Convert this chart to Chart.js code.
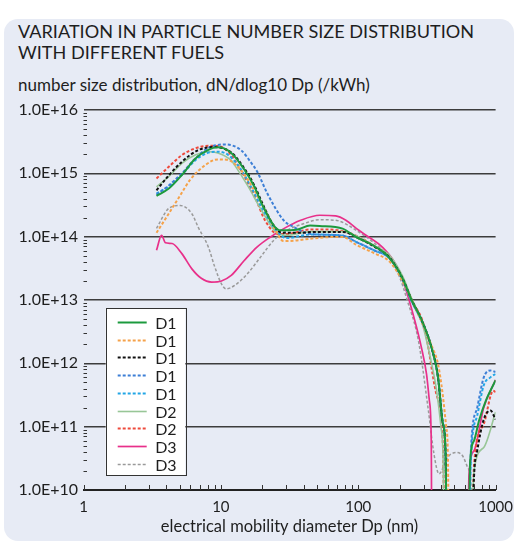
<!DOCTYPE html>
<html><head><meta charset="utf-8">
<script src="https://cdn.jsdelivr.net/npm/chart.js@4.4.1/dist/chart.umd.min.js"></script>
<style>
html,body{margin:0;padding:0;background:#fff;width:521px;height:549px;overflow:hidden;font-family:Lato,sans-serif;color:#1e1e1e}
#paper{position:absolute;left:4px;top:19px;width:510px;height:522px;background:#e7ebf5;border-radius:14px}
#title{position:absolute;left:18px;top:21px;font-size:18.1px;line-height:21.3px;white-space:nowrap}
#ytitle{position:absolute;left:18px;top:75px;font-size:17px;line-height:20px;white-space:nowrap}
canvas{position:absolute;left:0;top:0}
</style></head><body>
<div id="paper"></div>
<div id="title">VARIATION IN PARTICLE NUMBER SIZE DISTRIBUTION<br>WITH DIFFERENT FUELS</div>
<div id="ytitle">number size distribution, dN/dlog10 Dp (/kWh)</div>
<canvas id="c" width="521" height="549"></canvas>
<script>
// ---- data (Dp in nm, N in dN/dlog10Dp per kWh; 1e8 = below axis / zero) ----
const seriesLabels = ['D1','D1','D1','D1','D1','D2','D2','D3','D3'];
const xTickLabels = ['1','10','100','1000'];
const yTickLabels = ['1.0E+10','1.0E+11','1.0E+12','1.0E+13','1.0E+14','1.0E+15','1.0E+16'];

const d1aDp = [3.4,4.2,5.2,6.5,8.1,9.5,11.9,14.8,17.5,20,24.3,27.1,35.7,44.6,52.3,77,96,134,166,208,245,290,341,381,411,432,447,622,653,697,757,851,1000];
const d1aN  = [4.4e14,5.8e14,9.4e14,1.7e15,2.35e15,2.57e15,2.1e15,1.15e15,6.2e14,3.2e14,1.5e14,1.26e14,1.29e14,1.5e14,1.48e14,1.34e14,9.9e13,6.9e13,4.8e13,2.3e13,9.9e12,4.8e12,1.8e12,6e11,1.2e11,4e10,1e8,1e8,2.9e10,6e10,1.24e11,2.6e11,5.4e11];

const d1bDp = [3.4,4,4.5,5,6,7.7,9.5,11.3,14,17,20,24,28.7,35,45,60,77,96,130,170,210,245,290,342,380,410,437,450,458];
const d1bN  = [1.15e14,2.0e14,3.0e14,4.3e14,8e14,1.35e15,1.66e15,1.62e15,1.12e15,6e14,3.2e14,1.5e14,8.5e13,8.7e13,9.3e13,9.8e13,9.9e13,7.5e13,5.5e13,4e13,2e13,1.0e13,4.5e12,1.9e12,1e12,3.5e11,1e11,3e10,1e8];

const d1cDp = [3.4,4.2,5.2,6.85,9,12,14.8,17.5,20,24,28,36,50,77,100,130,170,210,245,290,341,381,411,432,447,640,700,735,820,917,1000];
const d1cN  = [5.4e14,9.4e14,1.52e15,2.33e15,2.6e15,2.1e15,1.2e15,6.5e14,3.4e14,1.55e14,1.15e14,1.15e14,1.19e14,1.19e14,9.5e13,7e13,4.6e13,2.2e13,1.0e13,4.8e12,1.8e12,6e11,1.2e11,4e10,1e8,1e8,2e10,4.2e10,1.3e11,1.8e11,1.3e11];

const d1dDp = [3.4,4.2,5.2,6.5,8,10.7,14,16.5,18.4,21.8,28.7,33.8,45,77,96,130,170,210,245,290,341,381,411,432,447,620,661,735,820,917,1000];
const d1dN  = [4.6e14,6.5e14,1.0e15,1.7e15,2.48e15,2.86e15,2.33e15,1.5e15,1.06e15,4.8e14,1.8e14,1.43e14,1.1e14,1.04e14,8.3e13,6.1e13,4.5e13,2.1e13,9.5e12,4.6e12,1.8e12,6e11,1.2e11,4e10,1e8,1e8,4.2e10,2e11,6e11,7.7e11,7.3e11];

const d1eDp = [3.4,4.2,5.2,6.5,8,9.5,11.3,14,17,20,25,30,45,77,96,130,170,210,245,290,341,381,411,432,447,625,661,735,820,917,1000];
const d1eN  = [4.8e14,6.3e14,9.5e14,1.6e15,2.1e15,2.2e15,1.95e15,1.15e15,5.5e14,2.8e14,1.3e14,9.5e13,1.08e14,1.04e14,8.3e13,6.1e13,4.5e13,2.1e13,9.5e12,4.6e12,1.8e12,6e11,1.2e11,4e10,1e8,1e8,3e10,1.5e11,4.5e11,6e11,6.8e11];

const d2aDp = [3.4,4.2,5.2,6.5,8.1,9.5,11.9,12.6,15.6,20,25,30,45,77,100,130,170,210,245,290,342,370,400,415,428,642,697,820,1000];
const d2aN  = [6.1e14,9e14,1.44e15,1.94e15,2.19e15,2.1e15,1.6e15,1.35e15,6.5e14,2.5e14,1.2e14,1.05e14,1.2e14,1.2e14,1.0e14,7.2e13,5e13,2.4e13,1.05e13,4.5e12,1e12,4e11,1e11,3e10,1e8,1e8,2e10,4.7e10,1.7e11];

const d2bDp = [3.4,4.18,5.2,6.5,8.1,9.55,11.3,13.3,15.6,17.9,21,26,30,45,60,80,100,130,170,210,245,303,370,414,432,645,698,820,960,1000];
const d2bN  = [8.3e14,1.27e15,1.94e15,2.48e15,2.72e15,2.7e15,2.19e15,1.35e15,7.3e14,4e14,1.8e14,1.1e14,1.1e14,1.3e14,1.3e14,1.2e14,1.0e14,7.2e13,4.8e13,2.2e13,1.0e13,3.7e12,3.3e11,4.7e10,1e8,1e8,2.6e10,1.1e11,3.7e11,3.5e11];

const d3aDp = [3.4,3.7,3.95,4.42,5.2,6.15,7.2,8.55,10.1,11.9,14.8,18.4,23,28.7,37.7,52.5,68.5,81.3,101,119,149,186,219,258,288,314,330,340,345,620,640,698,820,1000];
const d3aN  = [6.1e13,1.05e14,8e13,7.8e13,5.4e13,3.1e13,2.2e13,1.92e13,2.0e13,2.45e13,4.2e13,6.9e13,9.9e13,1.34e14,1.8e14,2.18e14,2.13e14,1.82e14,1.26e14,9.9e13,6.9e13,3.75e13,1.6e13,4.75e12,1.8e12,6.8e11,2.5e11,6e10,1e8,1e8,1.7e10,4.2e10,2e11,5.5e11];

const d3bDp = [3.4,4.18,5.07,6.15,6.85,8.1,9.04,10.1,10.9,12.6,15.6,19.5,24.3,30.3,39.9,52,70,85,100,130,170,200,227,274,322,356,387,448,515,573,624,662,690];
const d3bN  = [1.35e14,2.8e14,3.1e14,2.3e14,1.4e14,6.9e13,3.3e13,1.8e13,1.5e13,1.7e13,2.6e13,4.8e13,8.8e13,1.26e14,1.6e14,1.85e14,1.8e14,1.5e14,1.2e14,8e13,4.5e13,2.3e13,1e13,2.3e12,2e11,3.7e10,1.8e10,3.3e10,3.9e10,3.5e10,2.3e10,1.1e10,1e8];

// ---- styling ----
const seriesData = [[d1aDp,d1aN],[d1bDp,d1bN],[d1cDp,d1cN],[d1dDp,d1dN],[d1eDp,d1eN],[d2aDp,d2aN],[d2bDp,d2bN],[d3aDp,d3aN],[d3bDp,d3bN]];
const styles = [
  {c:'#1c9a3e', w:2,   d:[]},
  {c:'#f5a24a', w:2,   d:[3,2]},
  {c:'#111111', w:2,   d:[3,2]},
  {c:'#3d7fd6', w:2,   d:[3,2]},
  {c:'#22a6e6', w:2,   d:[3,2]},
  {c:'#98c697', w:1.6, d:[]},
  {c:'#ee4a3c', w:2,   d:[3,2]},
  {c:'#e8308a', w:1.7, d:[]},
  {c:'#9a9a9a', w:1.5, d:[3,2]}
];

const isPow10 = v => { const l = Math.log10(v); return Math.abs(l - Math.round(l)) < 1e-6; };

const datasets = seriesData.map(([xs, ys], i) => ({
  label: seriesLabels[i],
  data: xs.map((x, j) => ({x, y: ys[j]})),
  borderColor: styles[i].c,
  borderWidth: styles[i].w,
  borderDash: styles[i].d,
  pointRadius: 0,
  fill: false,
  cubicInterpolationMode: 'monotone'
}));

const innerTicks = {
  id: 'innerTicks',
  afterDatasetsDraw(chart) {
    const {ctx, chartArea: a, scales: {x, y}} = chart;
    ctx.save();
    ctx.strokeStyle = '#333'; ctx.lineWidth = 1;
    const y0 = Math.round(Math.log10(y.min)), y1 = Math.round(Math.log10(y.max));
    for (let e = y0; e < y1; e++) for (let k = 2; k < 10; k++) {
      const py = Math.round(y.getPixelForValue(k * Math.pow(10, e))) + 0.5;
      ctx.beginPath(); ctx.moveTo(a.left, py); ctx.lineTo(a.left + 3.5, py); ctx.stroke();
    }
    const x0 = Math.round(Math.log10(x.min)), x1 = Math.round(Math.log10(x.max));
    for (let e = x0; e <= x1; e++) for (let k = 1; k < 10; k++) {
      const v = k * Math.pow(10, e);
      if (v > x.max * 1.0001) break;
      const px = Math.round(x.getPixelForValue(v)) + 0.5;
      ctx.beginPath(); ctx.moveTo(px, a.bottom); ctx.lineTo(px, a.bottom - 5); ctx.stroke();
    }
    ctx.restore();
  }
};

const boxLegend = {
  id: 'boxLegend',
  afterDatasetsDraw(chart) {
    const {ctx, chartArea: a} = chart;
    const ds = chart.data.datasets;
    const bx = a.left + 22.2, by = a.top + 198.3, bw = 79.6, bh = 166.7, rowH = 17.7;
    ctx.save();
    ctx.fillStyle = '#ffffff';
    ctx.fillRect(bx, by, bw, bh);
    ctx.strokeStyle = '#333'; ctx.lineWidth = 1;
    ctx.strokeRect(Math.round(bx) + 0.5, Math.round(by) + 0.5, Math.round(bw), Math.round(bh));
    ctx.font = '16px Lato';
    ctx.textBaseline = 'middle';
    ds.forEach((d, i) => {
      const cy = Math.round(by + 13.7 + i * rowH) + 0.5;
      ctx.strokeStyle = d.borderColor; ctx.lineWidth = d.borderWidth;
      ctx.setLineDash(d.borderDash || []);
      ctx.beginPath(); ctx.moveTo(bx + 12, cy); ctx.lineTo(bx + 41, cy); ctx.stroke();
      ctx.setLineDash([]);
      ctx.fillStyle = '#1e1e1e';
      ctx.fillText(d.label, bx + 49.5, cy + 1);
    });
    ctx.restore();
  }
};

Chart.defaults.font.family = 'Lato';
Chart.defaults.color = '#1e1e1e';

new Chart(document.getElementById('c'), {
  type: 'line',
  data: {datasets},
  plugins: [innerTicks, boxLegend],
  options: {
    responsive: false,
    animation: false,
    devicePixelRatio: 1,
    layout: {padding: {top: 110, right: 19, bottom: 0, left: 0}},
    plugins: {legend: {display: false}, tooltip: {enabled: false}},
    scales: {
      x: {
        type: 'logarithmic', min: 1, max: 1000,
        grid: {display: false, drawTicks: false},
        border: {display: true, color: '#222', width: 2},
        ticks: {
          autoSkip: false, maxRotation: 0, padding: 8, font: {size: 15},
          callback: v => isPow10(v) ? xTickLabels[Math.round(Math.log10(v))] : ''
        },
        title: {display: true, text: 'electrical mobility diameter Dp (nm)', font: {size: 16.5}, padding: {top: 0, bottom: 12}},
        afterFit: s => { s.height = 59; }
      },
      y: {
        type: 'logarithmic', min: 1e10, max: 1e16,
        grid: {
          drawTicks: false, lineWidth: 1.5,
          color: c => (c.tick && isPow10(c.tick.value)) ? '#3c3c3c' : 'rgba(0,0,0,0)'
        },
        border: {display: false},
        ticks: {
          autoSkip: false, padding: 5.5, font: {size: 16},
          callback: v => isPow10(v) ? yTickLabels[Math.round(Math.log10(v)) - 10] : ''
        },
        afterFit: s => { s.width = 83.5; }
      }
    }
  }
});
</script>
</body></html>
